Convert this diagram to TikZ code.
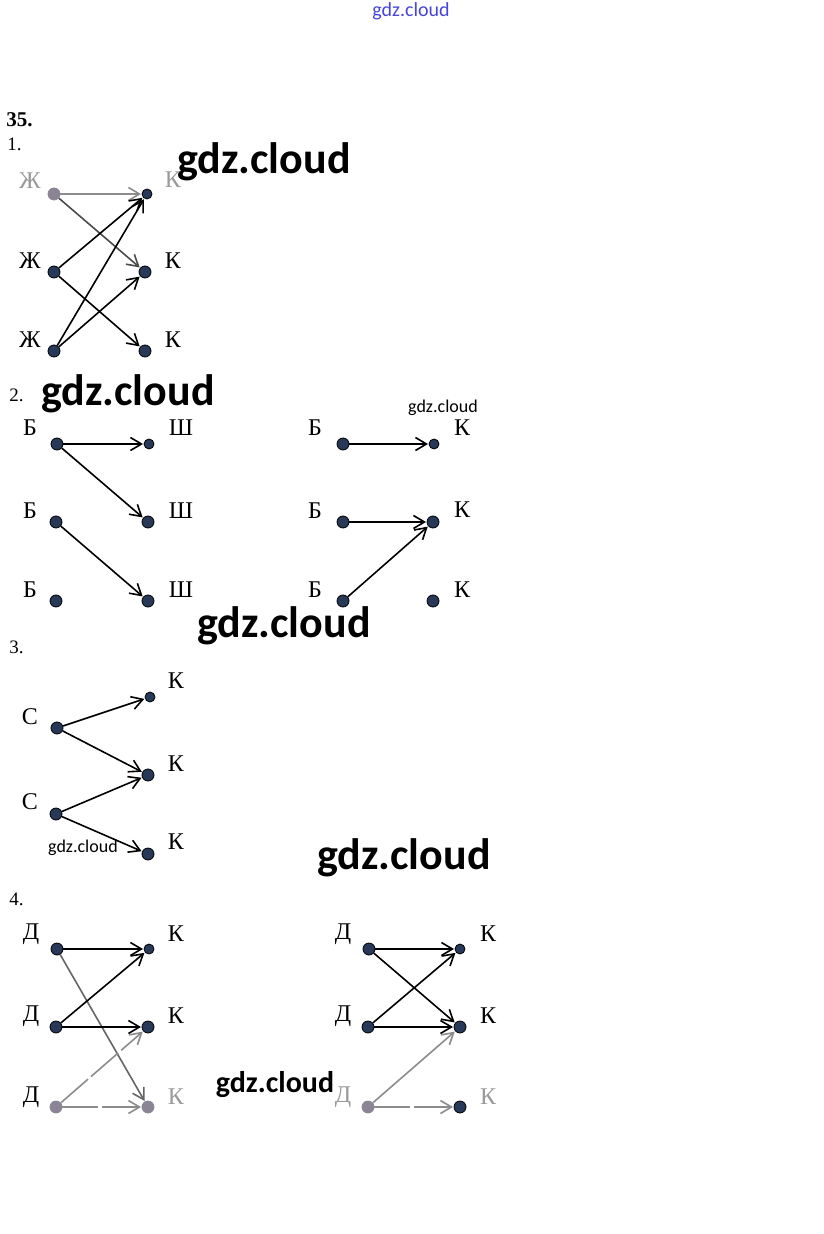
\documentclass[tikz,border=0pt]{standalone}
\usepackage{fontspec}
\setmainfont{Liberation Serif}
\newfontfamily\wmfont{Carlito}
\usetikzlibrary{arrows.meta}
\definecolor{dotblue}{RGB}{40,56,88}
\definecolor{dotgray}{RGB}{138,132,148}
\definecolor{wmblue}{RGB}{70,70,220}

\begin{document}
\begin{tikzpicture}[x=0.5pt,y=0.5pt,yscale=-1,xscale=1,
  dot/.style={circle,draw=black,line width=0.4pt,fill=dotblue,inner sep=0pt,minimum size=6pt},
  sdot/.style={dot,minimum size=5pt},
  gdot/.style={dot,draw=dotgray,fill=dotgray},
  arr/.style={-{Straight Barb[length=5.5pt,width=6.5pt]},line width=0.8pt,shorten >=0.3pt},
  garr/.style={arr,draw=black!45},
  gdash/.style={garr,dash pattern=on 18pt off 2pt},
  lbl/.style={inner sep=0pt,font=\fontsize{12}{14}\selectfont},
  glbl/.style={lbl,text=black!40},
  num/.style={inner sep=0pt,anchor=west,font=\fontsize{9.5}{11}\selectfont},
  wmbig/.style={inner sep=0pt,font=\wmfont\bfseries\fontsize{22}{26}\selectfont},
  wmmid/.style={inner sep=0pt,font=\wmfont\bfseries\fontsize{15}{18}\selectfont},
  wmsmall/.style={inner sep=0pt,font=\wmfont\fontsize{9}{11}\selectfont}]

\fill [white] (0,0) rectangle (823,1234);
\useasboundingbox (0,0) rectangle (823,1234);

% Text Node
\node [num,font=\bfseries\fontsize{10.5}{12}\selectfont] (n35) at (6,120) {35.};
\node [num] (n1) at (7,144) {1.};
\node [num] (n2) at (9,395) {2.};
\node [num] (n3) at (9,647) {3.};
\node [num] (n4) at (9,899) {4.};

%Task 1
\node [gdot] (zh1) at (54,194) {};
\node [dot] (zh2) at (54,272) {};
\node [dot] (zh3) at (54,351) {};
\node [sdot] (ka1) at (147,194) {};
\node [dot] (ka2) at (145,272) {};
\node [dot] (ka3) at (145,351) {};
\node [glbl] (lzh1) at (30,181) {Ж};
\node [lbl] (lzh2) at (30,261) {Ж};
\node [lbl] (lzh3) at (30,340) {Ж};
\node [glbl] (lka1) at (173,180) {К};
\node [lbl] (lka2) at (173,261) {К};
\node [lbl] (lka3) at (173,340) {К};
\draw [garr] (zh1) -- (ka1);
\draw [arr,draw=black!70] (zh1) -- (ka2);
\draw [arr] (zh2) -- (ka1);
\draw [arr] (zh2) -- (ka3);
\draw [arr] (zh3) -- (ka1);
\draw [arr] (zh3) -- (ka2);

%Task 2, left
\node [dot] (b1) at (57,444) {};
\node [dot] (b2) at (56,522) {};
\node [dot] (b3) at (56,601) {};
\node [sdot] (sh1) at (149,444) {};
\node [dot] (sh2) at (148,522) {};
\node [dot] (sh3) at (148,601) {};
\node [lbl] (lb1) at (30,428) {Б};
\node [lbl] (lb2) at (30,511) {Б};
\node [lbl] (lb3) at (30,590) {Б};
\node [lbl] (lsh1) at (181,428) {Ш};
\node [lbl] (lsh2) at (181,511) {Ш};
\node [lbl] (lsh3) at (181,590) {Ш};
\draw [arr] (b1) -- (sh1);
\draw [arr] (b1) -- (sh2);
\draw [arr] (b2) -- (sh3);

%Task 2, right
\node [dot] (bb1) at (343,444) {};
\node [dot] (bb2) at (343,522) {};
\node [dot] (bb3) at (343,601) {};
\node [sdot] (kb1) at (434,444) {};
\node [dot] (kb2) at (433,522) {};
\node [dot] (kb3) at (433,601) {};
\node [lbl] (lbb1) at (315,428) {Б};
\node [lbl] (lbb2) at (315,511) {Б};
\node [lbl] (lbb3) at (315,590) {Б};
\node [lbl] (lkb1) at (462,428) {К};
\node [lbl] (lkb2) at (462,510) {К};
\node [lbl] (lkb3) at (462,590) {К};
\draw [arr] (bb1) -- (kb1);
\draw [arr] (bb2) -- (kb2);
\draw [arr] (bb3) -- (kb2);

%Task 3
\node [dot] (s1) at (57,728) {};
\node [dot] (s2) at (56,814) {};
\node [sdot] (kc1) at (150,697) {};
\node [dot] (kc2) at (148,775) {};
\node [dot] (kc3) at (148,854) {};
\node [lbl] (ls1) at (30,717) {С};
\node [lbl] (ls2) at (30,802) {С};
\node [lbl] (lkc1) at (176,681) {К};
\node [lbl] (lkc2) at (176,764) {К};
\node [lbl] (lkc3) at (176,842) {К};
\draw [arr] (s1) -- (kc1);
\draw [arr] (s1) -- (kc2);
\draw [arr] (s2) -- (kc2);
\draw [arr] (s2) -- (kc3);

%Task 4, left
\node [dot] (d1) at (57,949) {};
\node [dot] (d2) at (56,1027) {};
\node [gdot] (d3) at (56,1107) {};
\node [sdot] (kd1) at (149,949) {};
\node [dot] (kd2) at (148,1027) {};
\node [gdot] (kd3) at (148,1107) {};
\node [lbl] (ld1) at (31,934) {Д};
\node [lbl] (ld2) at (31,1016) {Д};
\node [lbl] (ld3) at (31,1097) {Д};
\node [lbl] (lkd1) at (176,934) {К};
\node [lbl] (lkd2) at (176,1016) {К};
\node [glbl] (lkd3) at (176,1097) {К};
\draw [arr] (d1) -- (kd1);
\draw [arr,draw=black!60] (d1) -- (kd3);
\draw [arr] (d2) -- (kd1);
\draw [arr] (d2) -- (kd2);
\draw [gdash] (d3) -- (kd2);
\draw [gdash] (d3) -- (kd3);

%Task 4, right
\node [dot] (dd1) at (369,949) {};
\node [dot] (dd2) at (368,1027) {};
\node [gdot] (dd3) at (368,1107) {};
\node [sdot] (ke1) at (460,949) {};
\node [dot] (ke2) at (460,1027) {};
\node [dot] (ke3) at (460,1107) {};
\node [lbl] (ldd1) at (343,934) {Д};
\node [lbl] (ldd2) at (343,1016) {Д};
\node [glbl] (ldd3) at (343,1097) {Д};
\node [lbl] (lke1) at (488,934) {К};
\node [lbl] (lke2) at (488,1016) {К};
\node [glbl] (lke3) at (488,1097) {К};
\draw [arr] (dd1) -- (ke1);
\draw [arr] (dd1) -- (ke2);
\draw [arr] (dd2) -- (ke1);
\draw [arr] (dd2) -- (ke2);
\draw [garr] (dd3) -- (ke2);
\draw [gdash] (dd3) -- (ke3);

% Watermarks
\node [wmsmall,text=wmblue,font=\wmfont\fontsize{10}{12}\selectfont] (wm0) at (411,11) {gdz.cloud};
\node [wmbig] (wm1) at (264,162) {gdz.cloud};
\node [wmbig] (wm2) at (128,394) {gdz.cloud};
\node [wmsmall] (wm3) at (443,408) {gdz.cloud};
\node [wmbig] (wm4) at (284,626) {gdz.cloud};
\node [wmsmall] (wm5) at (83,848) {gdz.cloud};
\node [wmbig] (wm6) at (404,858) {gdz.cloud};
\node [wmmid] (wm7) at (275,1085) {gdz.cloud};

\end{tikzpicture}
\end{document}
